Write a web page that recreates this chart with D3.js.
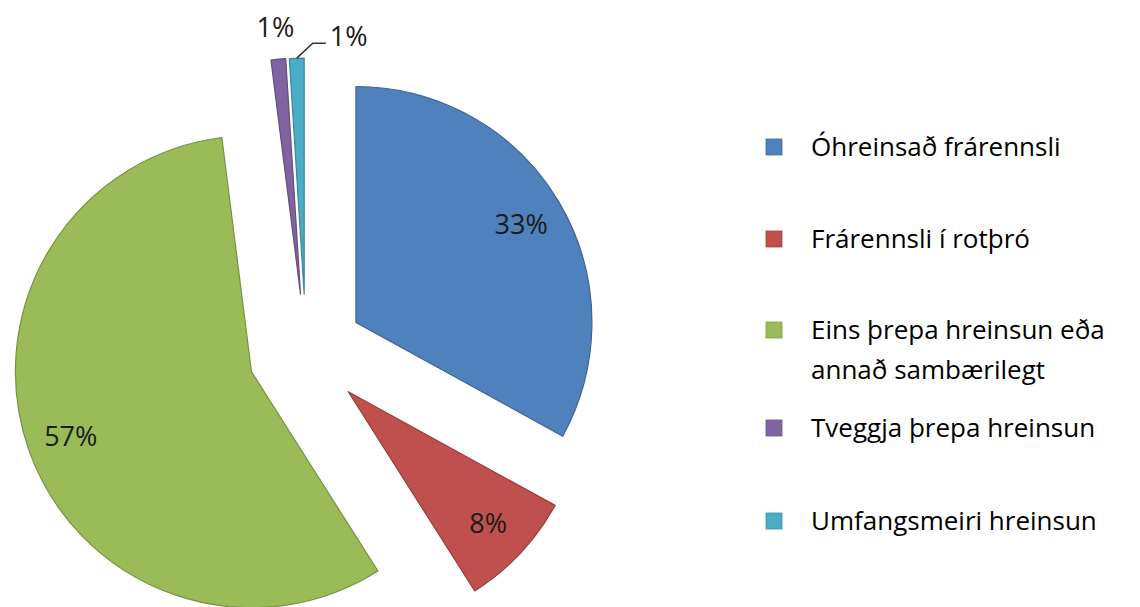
<!DOCTYPE html>
<html>
<head>
<meta charset="utf-8">
<script src="https://cdn.jsdelivr.net/npm/d3@7"></script>
<style>
  html, body { margin: 0; padding: 0; background: #fff; }
  svg { display: block; }
</style>
</head>
<body>
<div id="chart"></div>
<script>
// data
const categories = [
  'Óhreinsað frárennsli',
  'Frárennsli í rotþró',
  'Eins þrepa hreinsun eða annað sambærilegt',
  'Tveggja þrepa hreinsun',
  'Umfangsmeiri hreinsun'
];
const values = [33, 8, 57, 1, 1];
const legendLines = [
  ['Óhreinsað frárennsli'],
  ['Frárennsli í rotþró'],
  ['Eins þrepa hreinsun eða', 'annað sambærilegt'],
  ['Tveggja þrepa hreinsun'],
  ['Umfangsmeiri hreinsun']
];
const colors = ['#4F81BD', '#C0504D', '#9BBB59', '#8064A2', '#4BACC6'];

const width = 1140, height = 607;
const cx = 306, cy = 352;      // pie centre
const radius = 236;
const explode = 58;             // distance each slice is pulled out
const labelR = 192;

const svg = d3.select('#chart').append('svg')
  .attr('width', width)
  .attr('height', height);

svg.append('rect').attr('width', width).attr('height', height).attr('fill', '#fff');

const pie = d3.pie().sort(null).value(d => d).startAngle(0).endAngle(2 * Math.PI);
const arcs = pie(values);

const arc = d3.arc().innerRadius(0).outerRadius(radius);
const labelArc = d3.arc().innerRadius(labelR).outerRadius(labelR);

const mid = d => (d.startAngle + d.endAngle) / 2;
const offset = d => [explode * Math.sin(mid(d)), -explode * Math.cos(mid(d))];

const g = svg.append('g').attr('transform', `translate(${cx},${cy})`);

const slice = g.selectAll('g.slice')
  .data(arcs)
  .join('g')
  .attr('class', 'slice')
  .attr('transform', d => `translate(${offset(d)})`);

slice.append('path')
  .attr('d', arc)
  .attr('fill', (d, i) => colors[i])
  .attr('stroke', (d, i) => d3.color(colors[i]).darker(0.7))
  .attr('stroke-width', 1.2)
  .attr('stroke-linejoin', 'round');

// inside labels for the big slices
slice.filter(d => d.value > 5)
  .append('text')
  .attr('transform', d => `translate(${labelArc.centroid(d)})`)
  .attr('text-anchor', 'middle')
  .attr('dy', '0.36em')
  .attr('font-family', '"Open Sans", sans-serif')
  .attr('font-size', 27)
  .attr('fill', '#1b1b1b')
  .text(d => d.value + '%');

// outside labels for the tiny slices
const small = arcs.filter(d => d.value <= 5);
const outerArc = d3.arc().innerRadius(radius).outerRadius(radius);

// first tiny slice: label straight above
const p0 = small[0];
const o0 = offset(p0);
const la = d3.arc().innerRadius(268).outerRadius(268).centroid(p0);
g.append('text')
  .attr('x', o0[0] + la[0])
  .attr('y', o0[1] + la[1])
  .attr('text-anchor', 'middle')
  .attr('dy', '0.36em')
  .attr('font-family', '"Open Sans", sans-serif')
  .attr('font-size', 27)
  .attr('fill', '#1b1b1b')
  .text(p0.value + '%');

// second tiny slice: leader line to the right
const p1 = small[1];
const o1 = offset(p1);
const e = outerArc.centroid(p1);
const start = [o1[0] + e[0], o1[1] + e[1]];
const elbow = [start[0] + 16, start[1] - 15];
const end = [elbow[0] + 13, elbow[1]];
g.append('polyline')
  .attr('points', [start, elbow, end].map(p => p.join(',')).join(' '))
  .attr('fill', 'none')
  .attr('stroke', '#333')
  .attr('stroke-width', 1.5);
g.append('text')
  .attr('x', end[0] + 4)
  .attr('y', end[1] - 7)
  .attr('dy', '0.36em')
  .attr('font-family', '"Open Sans", sans-serif')
  .attr('font-size', 27)
  .attr('fill', '#1b1b1b')
  .text(p1.value + '%');

// legend
const legendY = [147, 239, 330, 428, 521];
const legend = svg.append('g')
  .selectAll('g')
  .data(categories)
  .join('g')
  .attr('transform', (d, i) => `translate(766,${legendY[i]})`);

legend.append('rect')
  .attr('x', 0)
  .attr('y', -8)
  .attr('width', 16)
  .attr('height', 16)
  .attr('fill', (d, i) => colors[i])
  .attr('stroke', (d, i) => d3.color(colors[i]).darker(0.5))
  .attr('stroke-width', 0.8);

legend.append('text')
  .attr('x', 45)
  .attr('y', 0)
  .attr('font-family', '"Open Sans", sans-serif')
  .attr('font-size', 26)
  .attr('fill', '#000')
  .selectAll('tspan')
  .data((d, i) => legendLines[i])
  .join('tspan')
  .attr('x', 45)
  .attr('dy', (d, j) => j === 0 ? '0.34em' : '1.55em')
  .text(d => d);
</script>
</body>
</html>
